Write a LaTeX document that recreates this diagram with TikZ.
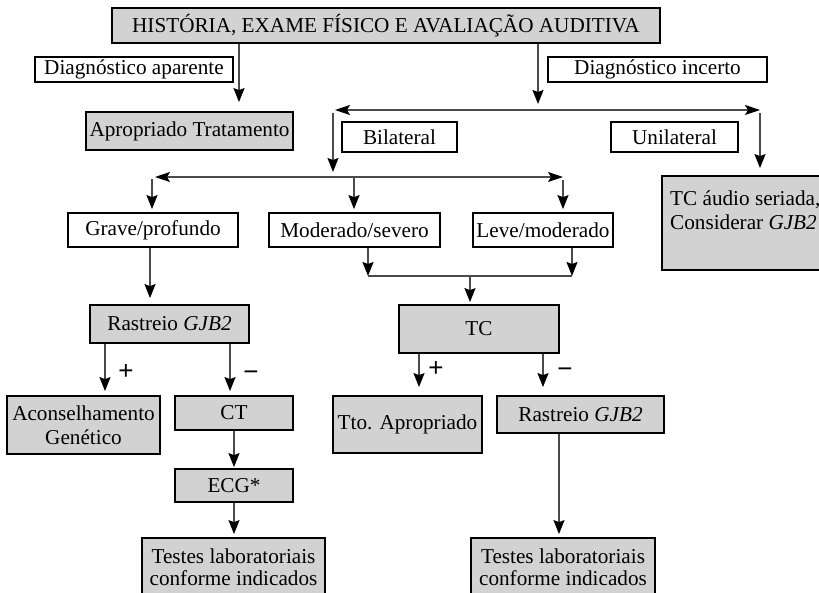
\documentclass[tikz,border=0pt]{standalone}
\usepackage{fontspec}
\setmainfont{Liberation Serif}
\newfontfamily\signfont{Liberation Sans}
\usetikzlibrary{arrows.meta}
\definecolor{boxgray}{HTML}{D2D2D2}
\definecolor{linegray}{HTML}{4A4A4A}
\newcommand\bx[7]{\node[#6, minimum width={#4-#2}, minimum height={#5-#3}] (#1) at ({(#2+#4)/2},{(#3+#5)/2}) {#7};}
\begin{document}
\begin{tikzpicture}[x=1pt,y=-1pt,
  every node/.style={font=\fontsize{21.2}{24.5}\selectfont, inner sep=0pt},
  gbox/.style={draw=black, line width=1.8pt, fill=boxgray, align=center},
  wbox/.style={draw=black, line width=1.8pt, fill=white, align=center},
  conn/.style={draw=linegray, line width=1.3pt},
  tipv/.style={-{Stealth[length=14pt,width=11pt,inset=2pt,color=black]}},
  arr/.style={conn, tipv},
  darr/.style={conn, {Stealth[length=15pt,width=10pt,inset=3pt,color=black]}-{Stealth[length=15pt,width=10pt,inset=3pt,color=black]}},
  sign/.style={font=\signfont\fontsize{26}{26}\selectfont, anchor=center},
  tight/.style={font=\fontsize{21.2}{22.5}\selectfont}
]
\useasboundingbox (0,0) rectangle (819,592);
\clip (0,0) rectangle (819,592);

% boxes
\bx{top}{112}{8}{660}{43}{gbox}{HISTÓRIA, EXAME FÍSICO E AVALIAÇÃO AUDITIVA}
\bx{dap}{35}{57}{233}{82}{wbox}{Diagnóstico aparente}
\bx{din}{548}{57}{767}{82}{wbox}{Diagnóstico incerto}
\bx{apro}{86}{112}{293}{150}{gbox}{Apropriado Tratamento}
\bx{bil}{342}{122}{457}{152}{wbox}{Bilateral}
\bx{uni}{611}{122}{738}{152}{wbox}{Unilateral}
\bx{tca}{662}{176}{840}{270}{gbox}{}
\node[anchor=west, align=left] (tcat) at (670,210) {TC áudio seriada,\\Considerar \textit{GJB2}};
\bx{grave}{68}{213}{238}{247}{wbox}{Grave/profundo}
\bx{mod}{269}{213}{440}{247}{wbox}{Moderado/severo}
\bx{leve}{473}{213}{613}{247}{wbox}{Leve/moderado}
\bx{ras1}{90}{305}{249}{343}{gbox}{Rastreio \textit{GJB2}}
\bx{tc}{399}{305}{559}{353}{gbox}{TC}
\bx{acons}{7}{396}{160}{454}{gbox}{Aconselhamento\\Genético}
\bx{ct}{175}{396}{293}{430}{gbox}{CT}
\bx{ecg}{175}{469}{293}{502}{gbox}{ECG*}
\bx{test1}{142}{538}{325}{596}{gbox,tight}{Testes laboratoriais\\conforme indicados}
\bx{tto}{333}{396}{482}{453}{gbox}{Tto. Apropriado}
\bx{ras2}{497}{396}{664}{433}{gbox}{Rastreio \textit{GJB2}}
\bx{test2}{471}{538}{655}{596}{gbox,tight}{Testes laboratoriais\\conforme indicados}

% column and junction coordinates
\foreach \c in {239,538,333,760,152,354,563,150,368,572,470,105,230,234,419,543,559}
  {\coordinate (c\c) at (\c,0);}
\coordinate (L1a) at (335,110);
\coordinate (L1b) at (760,110);
\coordinate (L2a) at (155,177);
\coordinate (L2b) at (563,177);
\coordinate (L3a) at (368,276);
\coordinate (L3b) at (572,276);

% connectors
\draw[arr, shorten >=9pt] (top.south -| c239) -- (apro.north -| c239);
\draw[arr, shorten >=6pt] (top.south -| c538) -- (L1a -| c538);
\draw[darr] (L1a) -- (L1b);
\draw[arr, shorten <=3pt, shorten >=5pt] (L1a -| c333) -- (L2a -| c333);
\draw[arr, shorten <=3pt, shorten >=7pt] (L1b -| c760) -- (tca.north -| c760);
\draw[darr] (L2a) -- (L2b);
\draw[arr, shorten <=2pt, shorten >=3pt] (L2a -| c152) -- (grave.north -| c152);
\draw[arr, shorten >=3pt] (L2a -| c354) -- (mod.north -| c354);
\draw[arr, shorten <=3pt, shorten >=3pt] (L2b -| c563) -- (leve.north -| c563);
\draw[arr, shorten >=6pt] (grave.south -| c150) -- (ras1.north -| c150);
\draw[arr] (mod.south -| c368) -- (L3a);
\draw[arr] (leve.south -| c572) -- (L3b);
\draw[conn] (L3a) -- (L3b);
\draw[arr, shorten >=2pt] (L3a -| c470) -- (tc.north -| c470);
\draw[arr, shorten >=4pt] (ras1.south -| c105) -- (acons.north -| c105);
\draw[arr, shorten >=4pt] (ras1.south -| c230) -- (ct.north -| c230);
\draw[arr, shorten >=1pt] (ct.south -| c234) -- (ecg.north -| c234);
\draw[arr, shorten >=3pt] (ecg.south -| c234) -- (test1.north -| c234);
\draw[arr, shorten >=8pt] (tc.south -| c419) -- (tto.north -| c419);
\draw[arr, shorten >=8pt] (tc.south -| c543) -- (ras2.north -| c543);
\draw[arr, shorten >=3pt] (ras2.south -| c559) -- (test2.north -| c559);

% signs
\node[sign] (p1) at (126,372) {+};
\node[sign] (m1) at (251,376) {−};
\node[sign] (p2) at (436,369) {+};
\node[sign] (m2) at (565,373) {−};
\end{tikzpicture}
\end{document}
